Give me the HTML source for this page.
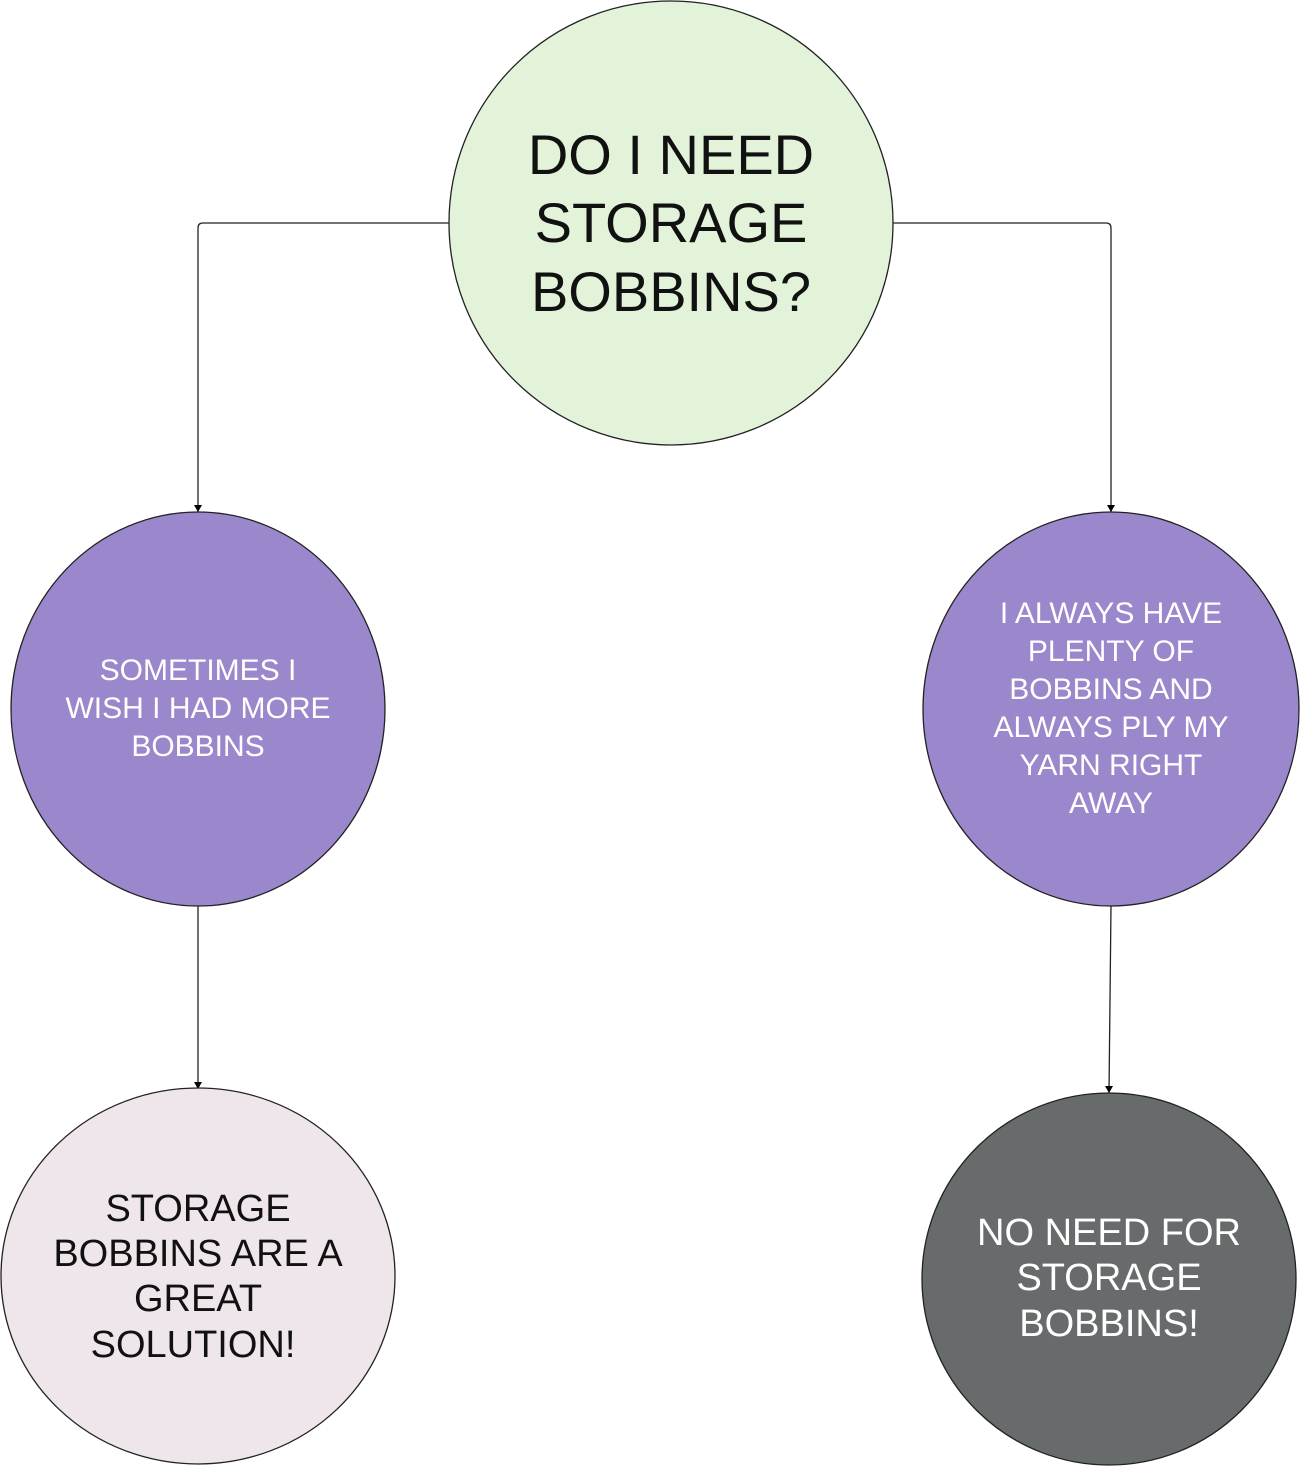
<!DOCTYPE html>
<html><head><meta charset="utf-8"><style>
html,body{margin:0;padding:0;background:#fff;}
svg{display:block;}
text{font-family:"Liberation Sans",sans-serif;text-anchor:middle;}
</style></head><body>
<svg width="1300" height="1466" viewBox="0 0 1300 1466" xmlns="http://www.w3.org/2000/svg">
<defs><marker id="a" markerWidth="8" markerHeight="8" refX="4" refY="6" orient="auto" markerUnits="userSpaceOnUse"><path d="M0,0 L4,6 L8,0" fill="none" stroke="#000" stroke-width="1"/></marker></defs>
<g fill="none" stroke="#222" stroke-width="1.3">
<path d="M449,223 H203 Q198,223 198,228 V512"/>
<path d="M893,223 H1106 Q1111,223 1111,228 V512"/>
<path d="M198,906 V1089"/>
<path d="M1111,906 L1109,1093"/>
</g>
<g fill="#000"><path d="M194,505 L198,512 L202,505Z"/><path d="M1107,505 L1111,512 L1115,505Z"/><path d="M194,1082 L198,1089 L202,1082Z"/><path d="M1105,1086 L1109,1093 L1113,1086Z"/></g>
<ellipse cx="671" cy="223" rx="222" ry="222" fill="#e2f3d9" stroke="#222" stroke-width="1.3"/>
<ellipse cx="198" cy="709" rx="187" ry="197" fill="#9b87cb" stroke="#222" stroke-width="1.3"/>
<ellipse cx="1111" cy="709" rx="188" ry="197" fill="#9b87cb" stroke="#222" stroke-width="1.3"/>
<ellipse cx="198" cy="1276" rx="197" ry="188" fill="#efe6ec" stroke="#222" stroke-width="1.3"/>
<ellipse cx="1109" cy="1279" rx="187" ry="186" fill="#676b6c" stroke="#222" stroke-width="1.3"/>
<g font-size="56" fill="#111"><text x="671" y="174">DO I NEED</text><text x="671" y="242">STORAGE</text><text x="671" y="311">BOBBINS?</text></g>
<g font-size="30" fill="#fff"><text x="198" y="680">SOMETIMES I</text><text x="198" y="718">WISH I HAD MORE</text><text x="198" y="756">BOBBINS</text></g>
<g font-size="30" fill="#fff"><text x="1111" y="623">I ALWAYS HAVE</text><text x="1111" y="661">PLENTY OF</text><text x="1111" y="699">BOBBINS AND</text><text x="1111" y="737">ALWAYS PLY MY</text><text x="1111" y="775">YARN RIGHT</text><text x="1111" y="813">AWAY</text></g>
<g font-size="38" fill="#111"><text x="198" y="1221">STORAGE</text><text x="198" y="1266">BOBBINS ARE A</text><text x="198" y="1311">GREAT</text><text x="193" y="1357">SOLUTION!</text></g>
<g font-size="38" fill="#fff"><text x="1109" y="1245">NO NEED FOR</text><text x="1109" y="1290">STORAGE</text><text x="1109" y="1336">BOBBINS!</text></g>
</svg>
</body></html>
